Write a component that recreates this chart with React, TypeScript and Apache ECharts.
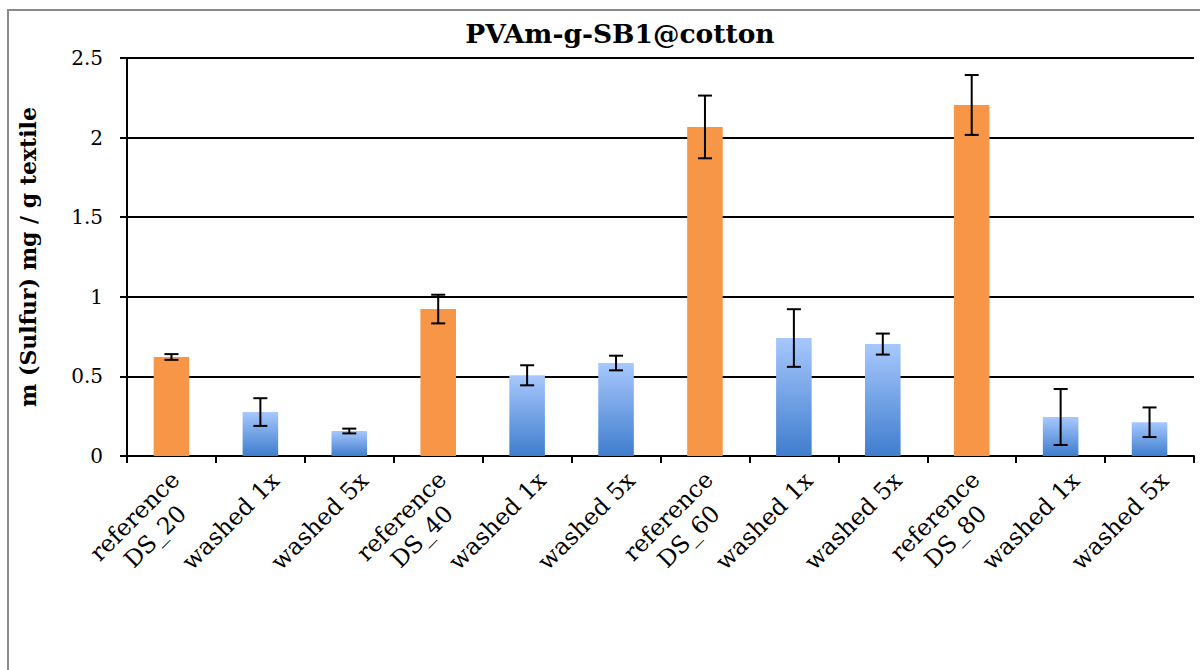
import React, { useEffect, useRef } from "react";
import * as echarts from "echarts";

const categories = [
  "reference\nDS_20", "washed 1x", "washed 5x",
  "reference\nDS_40", "washed 1x", "washed 5x",
  "reference\nDS_60", "washed 1x", "washed 5x",
  "reference\nDS_80", "washed 1x", "washed 5x",
];
const values = [0.622, 0.276, 0.157, 0.923, 0.507, 0.584, 2.067, 0.741, 0.703, 2.205, 0.245, 0.212];
const errors = [0.018, 0.087, 0.015, 0.09, 0.063, 0.046, 0.197, 0.181, 0.066, 0.188, 0.176, 0.093];
const isReference = [true, false, false, true, false, false, true, false, false, true, false, false];
const yTicks = [0, 0.5, 1, 1.5, 2, 2.5];

const TITLE = "PVAm-g-SB1@cotton";
const Y_NAME = "m (Sulfur) mg / g textile";
const FONT = "'DejaVu Serif', 'Liberation Serif', serif";
const LABEL_SIZE = 23.5;

export default function App() {
  const ref = useRef<HTMLDivElement>(null);
  useEffect(() => {
    if (!ref.current) return;
    const chart = echarts.init(ref.current, null, { renderer: "svg" });
    const blue = new echarts.graphic.LinearGradient(0, 0, 0, 1, [
      { offset: 0, color: "#a7c8fd" },
      { offset: 1, color: "#3f7dcd" },
    ]);
    const orange = "#f79646";
    const tok = { fontFamily: FONT, fontSize: LABEL_SIZE, color: "#000" };
    chart.setOption({
      animation: false,
      backgroundColor: "#ffffff",
      textStyle: { fontFamily: FONT },
      title: {
        text: TITLE,
        left: 615,
        top: 15,
        textAlign: "center",
        textStyle: { fontFamily: FONT, fontWeight: "bold", fontSize: 26.5, color: "#000" },
      },
      graphic: [
        {
          type: "polyline",
          shape: { points: [[8, 680], [8, 10], [1210, 10]] },
          style: { stroke: "#8a8a8a", lineWidth: 2, fill: "none" },
          silent: true,
        },
      ],
      grid: { left: 127, right: 6, top: 58, bottom: 214 },
      xAxis: {
        type: "category",
        data: categories,
        axisLine: { lineStyle: { color: "#000", width: 2 } },
        axisTick: { show: true, length: 7, lineStyle: { color: "#000", width: 2 } },
        axisLabel: {
          rotate: 45,
          interval: 0,
          margin: 0,
          align: "right",
          verticalAlign: "top",
          fontFamily: FONT,
          fontSize: LABEL_SIZE,
          color: "#000",
          formatter: (v: string) => {
            const parts = v.split("\n");
            if (parts.length === 1) return "{s|" + v + "}";
            return "{a|" + parts[0] + "}\n{b|" + parts[1] + "}";
          },
          rich: {
            s: { ...tok, lineHeight: 50, padding: [0, 4, 0, 0] },
            a: { ...tok, align: "center", lineHeight: 33, padding: [0, 11, 0, 0] },
            b: { ...tok, align: "center", lineHeight: 25, padding: [0, 11, 0, 0] },
          },
        },
      },
      yAxis: {
        type: "value",
        min: 0,
        max: 2.5,
        interval: 0.5,
        name: Y_NAME,
        nameLocation: "middle",
        nameGap: 88,
        nameTextStyle: { fontFamily: FONT, fontWeight: "bold", fontSize: 22, color: "#000" },
        axisLine: { show: true, lineStyle: { color: "#000", width: 2 } },
        axisTick: { show: true, length: 7, lineStyle: { color: "#000", width: 2 } },
        axisLabel: {
          margin: 24,
          fontFamily: FONT,
          fontSize: 20,
          color: "#000",
          formatter: (v: number) => (yTicks.includes(v) ? String(v) : ""),
        },
        splitLine: { show: true, lineStyle: { color: "#000", width: 2 } },
      },
      series: [
        {
          type: "bar",
          barWidth: "40%",
          data: values.map((v, i) => ({
            value: v,
            itemStyle: { color: isReference[i] ? orange : blue },
          })),
        },
        {
          type: "custom",
          silent: true,
          z: 5,
          data: values.map((v, i) => [i, v - errors[i], v + errors[i]]),
          renderItem: (params: any, api: any) => {
            const x = api.value(0);
            const lo = api.coord([x, api.value(1)]);
            const hi = api.coord([x, api.value(2)]);
            const half = 7;
            const style = { stroke: "#000", lineWidth: 2 };
            return {
              type: "group",
              children: [
                { type: "line", shape: { x1: hi[0], y1: hi[1], x2: lo[0], y2: lo[1] }, style },
                { type: "line", shape: { x1: hi[0] - half, y1: hi[1], x2: hi[0] + half, y2: hi[1] }, style },
                { type: "line", shape: { x1: lo[0] - half, y1: lo[1], x2: lo[0] + half, y2: lo[1] }, style },
              ],
            };
          },
        },
      ],
    });
    return () => chart.dispose();
  }, []);
  return <div ref={ref} style={{ width: 1200, height: 670, position: "absolute", left: 0, top: 0 }} />;
}
